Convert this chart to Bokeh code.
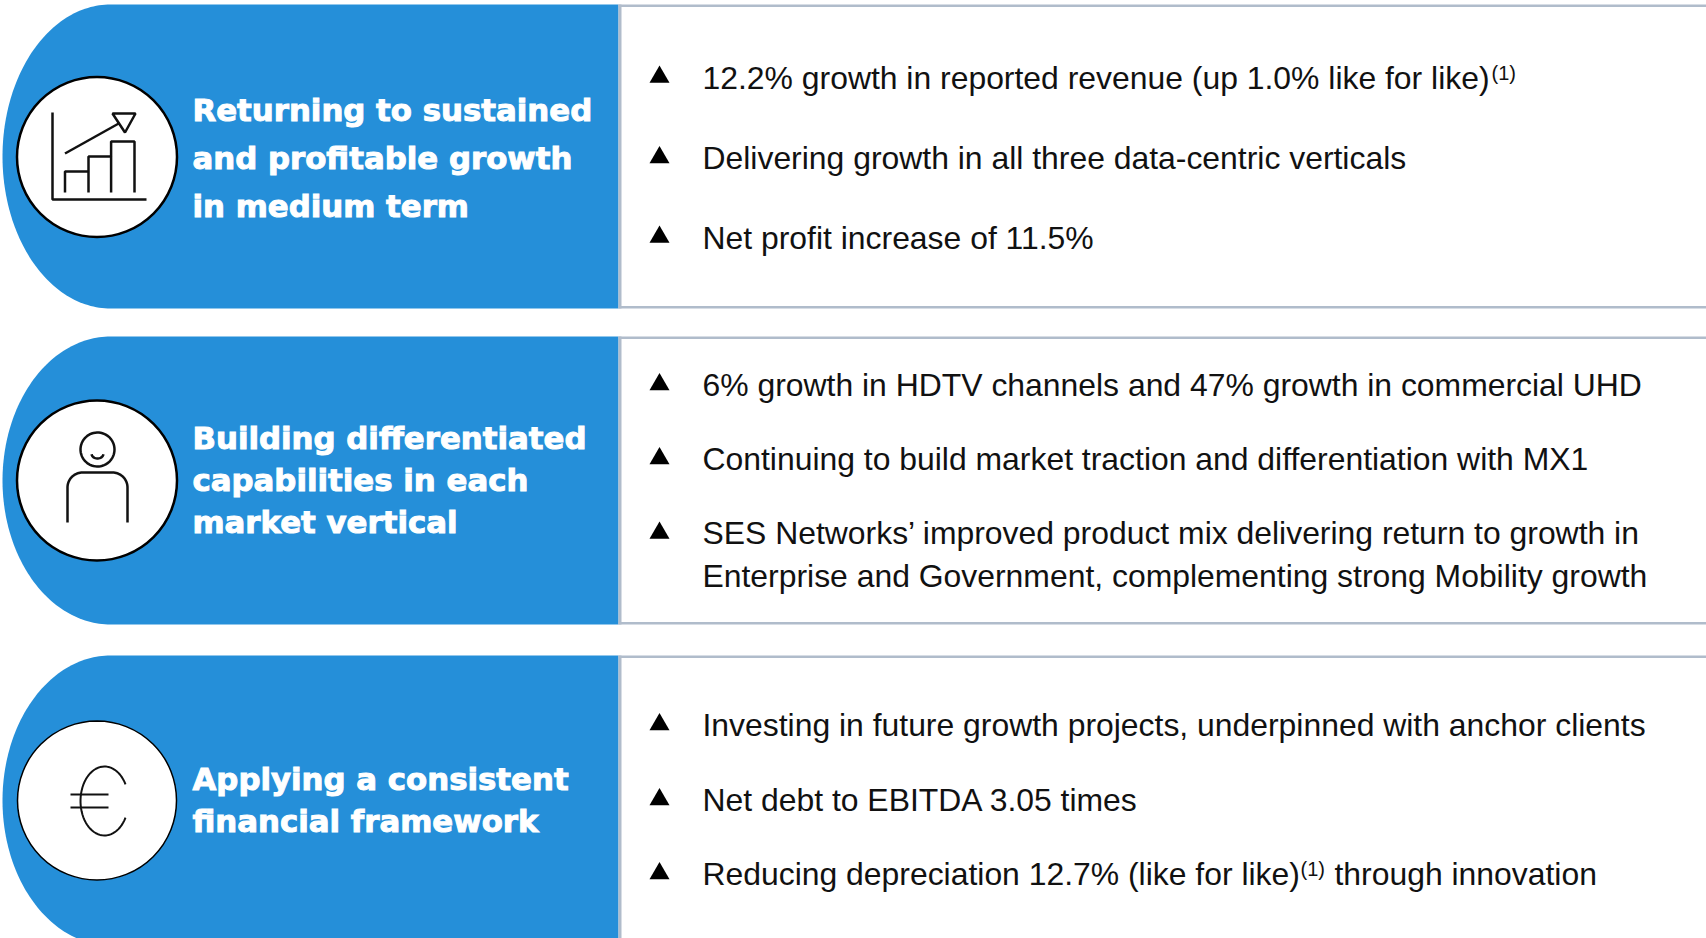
import numpy as np
from bokeh.plotting import figure
from bokeh.models import Range1d
from bokeh.core.properties import value
from bokeh.embed import file_html
from bokeh.resources import INLINE

# ---- texts ----
headlines = [
    "Returning to sustained", "and profitable growth", "in medium term",
    "Building differentiated", "capabilities in each", "market vertical",
    "Applying a consistent", "financial framework",
]
bullet_lines = [
    "12.2% growth in reported revenue (up 1.0% like for like)",
    "Delivering growth in all three data-centric verticals",
    "Net profit increase of 11.5%",
    "6% growth in HDTV channels and 47% growth in commercial UHD",
    "Continuing to build market traction and differentiation with MX1",
    "SES Networks\u2019 improved product mix delivering return to growth in",
    "Enterprise and Government, complementing strong Mobility growth",
    "Investing in future growth projects, underpinned with anchor clients",
    "Net debt to EBITDA 3.05 times",
    "Reducing depreciation 12.7% (like for like)",
    "through innovation",
]
footnote_marks = ["(1)", "(1)"]

# ---- layout, in page pixels ----
W, H = 1706, 938
BLUE, RULE = "#258fd9", "#b0bccb"
DY = -11
head_x = 192
head_y = [120, 168, 216, 448, 490, 532, 789, 831]
line_x = [702] * 10 + [1334]
line_y = [88, 168, 248, 395, 469, 543, 586, 735, 810, 884, 884]
tri_y = [76.5, 157, 236.5, 384, 458, 532.5, 724, 799, 873]
mark_x = [1491, 1300]
mark_y = [83, 879]
panels = [(4, 308), (336, 624), (655, 945)]
circles = [(96.5, 156.5, 80, 2.5), (96.5, 480, 80, 2.5), (96.5, 800, 79.5, 1.5)]

p = figure(width=W, height=H, x_range=Range1d(0, W), y_range=Range1d(H, 0),
           x_axis_type=None, y_axis_type=None, toolbar_location=None, output_backend="svg",
           min_border=0, outline_line_color=None, background_fill_color="white")
p.grid.visible = False

# panels
for top, bot in panels:
    cy, ry = (top + bot) / 2, (bot - top) / 2
    t = np.linspace(-np.pi / 2, np.pi / 2, 120)
    xs = list(110 - 108 * np.cos(t)) + [618, 618]
    ys = list(cy + ry * np.sin(t)) + [bot, top]
    p.patch(xs, ys, fill_color=BLUE, line_color=None)
    p.quad(left=[618], right=[621], top=[top], bottom=[min(bot, 945)], fill_color=RULE, line_color=None)
    p.quad(left=[618], right=[W], top=[top], bottom=[top + 2.5], fill_color=RULE, line_color=None)
    p.quad(left=[618], right=[W], top=[bot - 2.5], bottom=[bot], fill_color=RULE, line_color=None)

# icon discs
for cx, cy, r, lw in circles:
    p.ellipse(x=[cx], y=[cy], width=[2 * r], height=[2 * r], fill_color="white", line_color="black", line_width=lw)

INK = dict(line_color="#111111", line_width=2.5)
# chart icon
p.line([52, 52, 146], [112, 199, 199], **INK)
p.line([64.5, 64.5, 88, 88], [192, 171, 171, 192], **INK)
p.line([88, 88, 110.6, 110.6], [171, 156, 156, 192], **INK)
p.line([110.6, 110.6, 134, 134], [156, 141, 141, 192], **INK)
p.line([64.5, 120], [153, 122], **INK)
p.patch([112, 135, 124.5], [113, 113, 132], fill_color="white", **INK)

# person icon
t = np.linspace(0, 2 * np.pi, 60)
p.line(97 + 17 * np.cos(t), 449 + 17 * np.sin(t), **INK)
t = np.linspace(0.15, np.pi - 0.15, 20)
p.line(97 + 6 * np.cos(t), 453 + 5 * np.sin(t), **INK)
t = np.linspace(np.pi, 1.5 * np.pi, 20)
bx = [67] + list(82 + 15 * np.cos(t)) + list(112 - 15 * np.cos(t[::-1])) + [127]
by = [522] + list(487 + 15 * np.sin(t)) + list(487 + 15 * np.sin(t[::-1])) + [522]
p.line(bx, by, **INK)

# euro icon
a = np.linspace(np.radians(-151), np.radians(151), 60)
p.line(104 - 24 * np.cos(a), 800.5 + 34.5 * np.sin(a), line_color="#111111", line_width=2)
p.segment(x0=[70, 70], x1=[108, 108], y0=[794, 807], y1=[794, 807], line_color="#111111", line_width=2)

# bullets
p.scatter(x=[659] * len(tri_y), y=tri_y, marker="triangle", size=20, fill_color="black", line_color=None)

# texts
p.text(x=[head_x] * len(headlines), y=[v + DY for v in head_y], text=headlines, text_font=value("DejaVu Sans"),
       text_font_style="bold", text_font_size="30.8px", text_color="white", text_baseline="alphabetic",
       text_outline_color="white")
p.text(x=line_x, y=[v + DY for v in line_y], text=bullet_lines, text_font=value("Liberation Sans"),
       text_font_size="31.9px", text_color="#111111", text_baseline="alphabetic")
p.text(x=mark_x, y=[v + DY for v in mark_y], text=footnote_marks, text_font=value("Liberation Sans"),
       text_font_size="20px", text_color="#111111", text_baseline="alphabetic")

open("out.html", "w").write(file_html(p, INLINE))
